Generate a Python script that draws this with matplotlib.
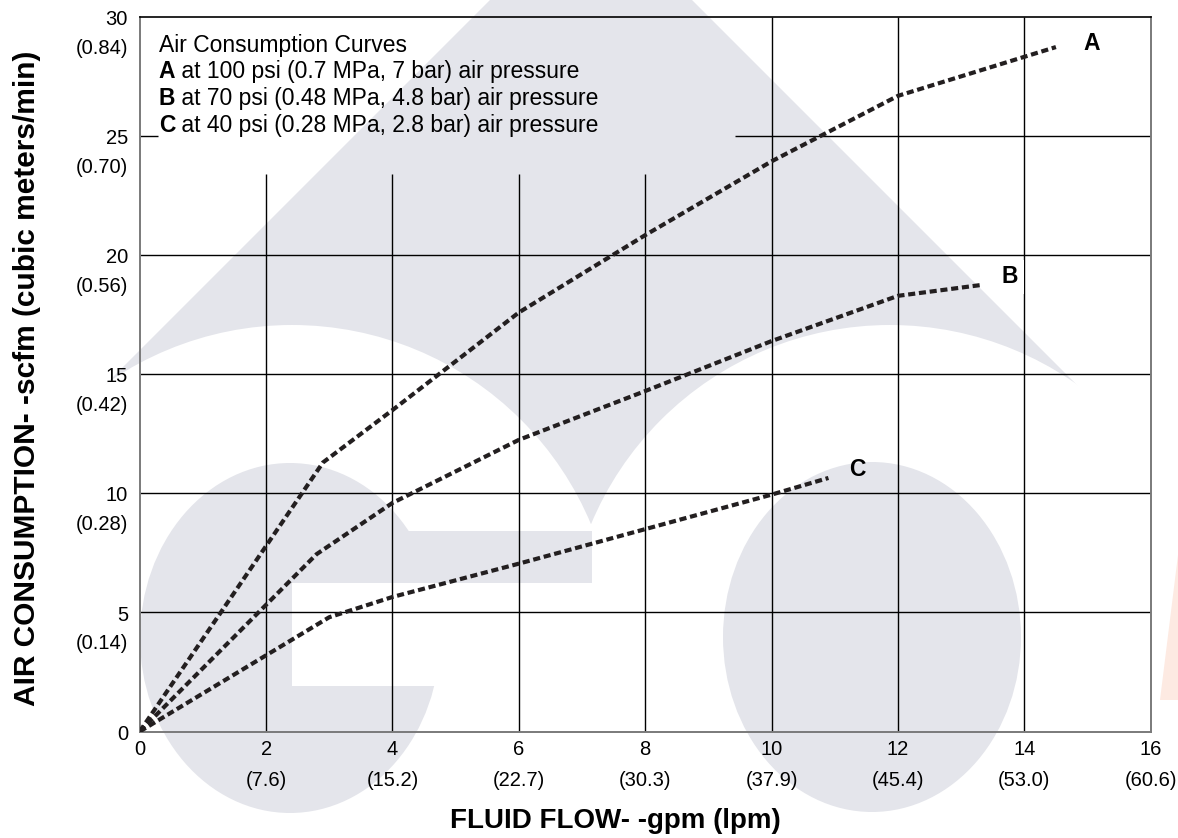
import numpy as np
import matplotlib.pyplot as plt
from matplotlib.patches import Polygon, Ellipse, Rectangle
from matplotlib.transforms import offset_copy, blended_transform_factory

plt.rcParams['font.family'] = ['Liberation Sans', 'DejaVu Sans']

# axis ticks (gpm / lpm, scfm / m3 per min)
gpm_ticks = [0, 2, 4, 6, 8, 10, 12, 14, 16]
lpm_labels = ['', '(7.6)', '(15.2)', '(22.7)', '(30.3)', '(37.9)', '(45.4)', '(53.0)', '(60.6)']
scfm_ticks = [0, 5, 10, 15, 20, 25, 30]
m3_labels = ['', '(0.14)', '(0.28)', '(0.42)', '(0.56)', '(0.70)', '(0.84)']

# curves
a_gpm = [0, 2.9, 4, 6, 8, 10, 12, 14.5]
a_scfm = [0, 11.3, 13.5, 17.6, 20.85, 23.95, 26.7, 28.75]
b_gpm = [0, 2.8, 4, 6, 8, 10, 12, 13.3]
b_scfm = [0, 7.45, 9.6, 12.25, 14.3, 16.4, 18.3, 18.75]
c_gpm = [0, 3, 4, 6, 8, 10, 10.9]
c_scfm = [0, 4.8, 5.65, 7.05, 8.5, 9.95, 10.65]

curve_names = ['A', 'B', 'C']
name_x = [15.07, 13.77, 11.35]
name_y = [28.9, 19.1, 11.0]
name_boxed = [False, True, False]   # B sits on a grid line

legend_title = 'Air Consumption Curves'
legend_rest = [' at 100 psi (0.7 MPa, 7 bar) air pressure',
               ' at 70 psi (0.48 MPa, 4.8 bar) air pressure',
               ' at 40 psi (0.28 MPa, 2.8 bar) air pressure']

# area kept clear of grid behind the legend text
box_left, box_right, box_bottom = 0.29, 9.42, 23.4

W, H = 1178, 838
fig = plt.figure(figsize=(W / 100, H / 100), dpi=100)

# faint logo watermark behind everything (pixel coords)
bg = fig.add_axes([0, 0, 1, 1], zorder=-1)
bg.set_xlim(0, W)
bg.set_ylim(H, 0)
bg.axis('off')
wm = '#e4e5eb'
bg.add_patch(Polygon([(591, -101), (1078, 386), (591, 524), (104, 386)], color=wm, lw=0))
bg.add_patch(Ellipse((292, 649), 648, 648, color='white', lw=0))
bg.add_patch(Ellipse((890, 649), 648, 648, color='white', lw=0))
bg.add_patch(Ellipse((290, 638), 300, 350, color=wm, lw=0))
bg.add_patch(Rectangle((290, 531), 302, 52, color=wm, lw=0))
bg.add_patch(Rectangle((292, 583), 300, 103, color='white', lw=0))
bg.add_patch(Ellipse((872, 637), 298, 350, color=wm, lw=0))
bg.add_patch(Polygon([(1178, 555), (1160, 700), (1178, 700)], color='#fdeae2', lw=0))

ax = fig.add_axes([139.7 / W, 1 - 731.5 / H, 1011 / W, 714.2 / H])
ax.set_facecolor('none')
ax.set_xlim(0, 16)
ax.set_ylim(0, 30)

# grid, leaving the legend corner blank
for x in gpm_ticks[1:-1]:
    top = box_bottom if x < box_right else 30
    ax.vlines(x, 0, top, color='black', lw=1.0, zorder=1)
for y in scfm_ticks[1:-1]:
    if y > box_bottom:
        ax.hlines(y, 0, box_left, color='black', lw=1.0, zorder=1)
        ax.hlines(y, box_right, 16, color='black', lw=1.0, zorder=1)
    else:
        ax.hlines(y, 0, 16, color='black', lw=1.0, zorder=1)

for side in ['left', 'bottom', 'right']:
    ax.spines[side].set_color('#7a7a7a')
    ax.spines[side].set_linewidth(1.4)
ax.spines['top'].set_color('black')
ax.spines['top'].set_linewidth(1.2)

for xs, ys in [(a_gpm, a_scfm), (b_gpm, b_scfm), (c_gpm, c_scfm)]:
    ax.plot(xs, ys, color='#231f20', lw=3.0, dashes=(1.7, 0.9),
            dash_capstyle='butt', zorder=3)

for nm, x, y, boxed in zip(curve_names, name_x, name_y, name_boxed):
    bb = dict(facecolor='white', edgecolor='none', pad=4) if boxed else None
    ax.text(x, y, nm, fontsize=16.5, fontweight='bold', ha='center', va='center',
            zorder=4, bbox=bb)

# x tick labels: gpm with lpm underneath
xlabs = [f'{g}\n{l}' if l else f'{g}' for g, l in zip(gpm_ticks, lpm_labels)]
ax.set_xticks(gpm_ticks, xlabs)
ax.tick_params(axis='x', length=0, pad=6, labelsize=14.5)
for lbl in ax.get_xticklabels():
    lbl.set_linespacing(1.8)

# y tick labels: scfm with m3/min underneath
ax.set_yticks([])
ytr = offset_copy(blended_transform_factory(ax.transAxes, ax.transData), fig,
                  x=0, y=5.0, units='points')
for v, l in zip(scfm_ticks, m3_labels):
    s = f'{v}\n{l}' if l else f'{v}'
    ax.text(-0.0116, v, s, transform=ytr, ha='right', va='top', fontsize=14.5,
            linespacing=1.66, clip_on=False)

# legend text block
ly = [0.9612, 0.9238, 0.8866, 0.8492]
ax.text(0.019, ly[0], legend_title, transform=ax.transAxes, fontsize=16.5,
        va='center', zorder=4)
for nm, rest, y in zip(curve_names, legend_rest, ly[1:]):
    t = ax.text(0.019, y, nm, transform=ax.transAxes, fontsize=16.5,
                fontweight='bold', va='center', zorder=4)
    ax.annotate(rest, xy=(1, 0), xycoords=t, va='bottom', ha='left',
                fontsize=16.5, zorder=4)

fig.text(615.5 / W, 1 - 821 / H, 'FLUID FLOW- -gpm (lpm)', fontsize=20,
         fontweight='bold', ha='center', va='center')
fig.text(27 / W, 1 - 378 / H, 'AIR CONSUMPTION- -scfm (cubic meters/min)',
         fontsize=21.5, fontweight='bold', rotation=90, ha='center', va='center')

fig.savefig('out.png', dpi=100)
